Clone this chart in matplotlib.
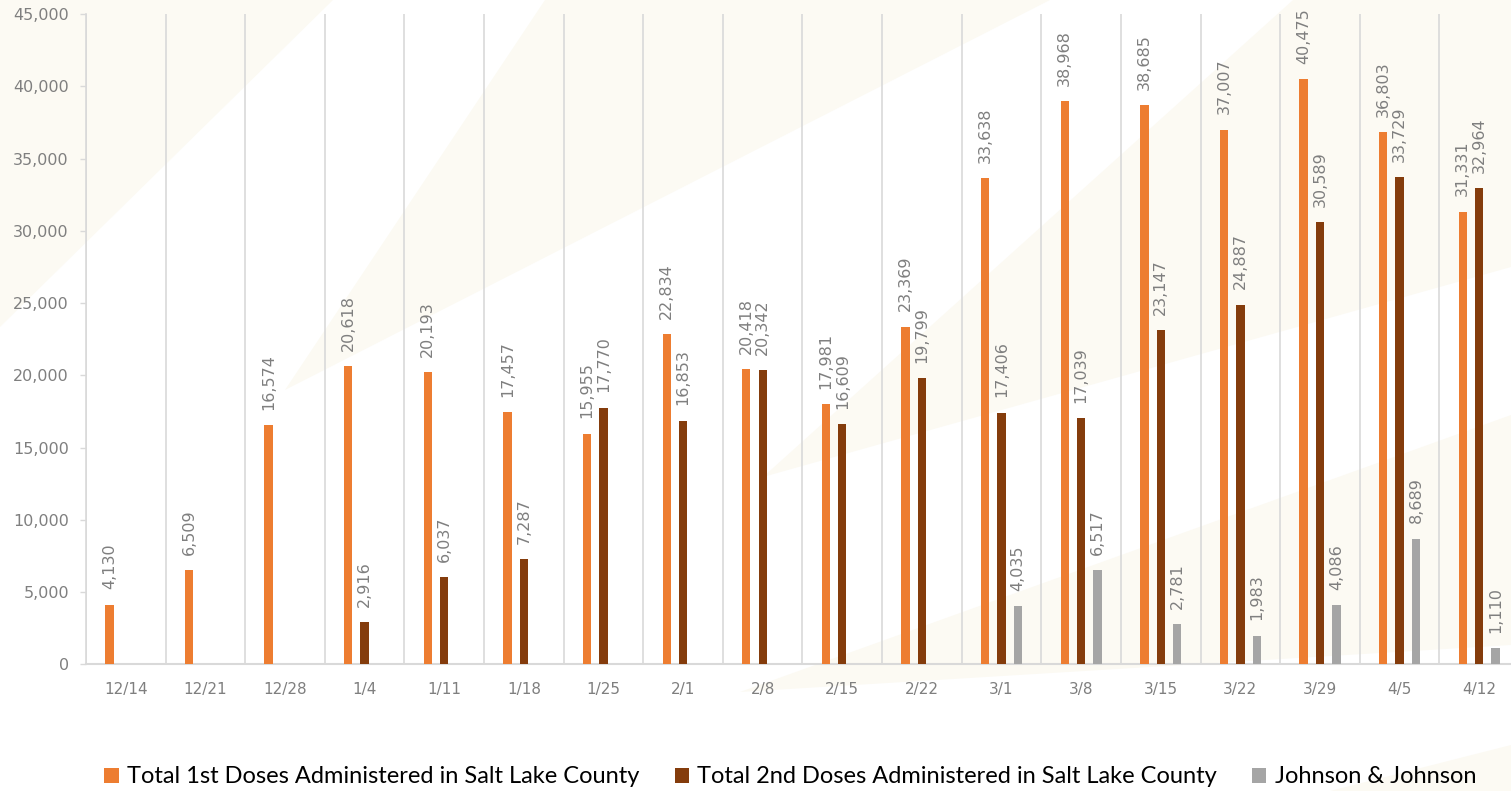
import numpy as np
import matplotlib
matplotlib.use('Agg')
import matplotlib.pyplot as plt
from matplotlib.patches import Polygon, Patch
from matplotlib.ticker import FuncFormatter

# ---------------- data ----------------
weeks = ['12/14', '12/21', '12/28', '1/4', '1/11', '1/18', '1/25', '2/1', '2/8',
         '2/15', '2/22', '3/1', '3/8', '3/15', '3/22', '3/29', '4/5', '4/12']
first_doses = [4130, 6509, 16574, 20618, 20193, 17457, 15955, 22834, 20418,
               17981, 23369, 33638, 38968, 38685, 37007, 40475, 36803, 31331]
second_doses = [None, None, None, 2916, 6037, 7287, 17770, 16853, 20342,
                16609, 19799, 17406, 17039, 23147, 24887, 30589, 33729, 32964]
jj_doses = [None, None, None, None, None, None, None, None, None,
            None, None, 4035, 6517, 2781, 1983, 4086, 8689, 1110]
series_names = ['Total 1st Doses Administered in Salt Lake County',
                'Total 2nd Doses Administered in Salt Lake County',
                'Johnson & Johnson']
series_colors = ['#ED7D31', '#843C0C', '#A5A5A5']
y_ticks = list(range(0, 45001, 5000))

# ---------------- figure ----------------
plt.rcParams['font.family'] = ['DejaVu Sans']
W, H = 1511, 791
fig = plt.figure(figsize=(W / 100, H / 100), dpi=100)
fig.patch.set_facecolor('white')

# faint decorative sunburst rays in the background (pixel coords, top-left origin)
cream = '#FCFAF3'
rays = [
    [(0, 0), (333, 0), (0, 327)],
    [(285, 390), (545, 0), (1050, 0)],
    [(763, 477), (1293, 0), (1511, 0), (1511, 267)],
    [(740, 692), (1511, 415), (1511, 645)],
    [(1330, 791), (1511, 745), (1511, 791)],
]
for r in rays:
    pts = [(x / W, 1 - y / H) for x, y in r]
    fig.add_artist(Polygon(pts, closed=True, transform=fig.transFigure,
                           facecolor=cream, edgecolor='none', zorder=-5))

ax = fig.add_axes([86 / W, (H - 664.3) / H, (1519 - 86) / W, 650.3 / H])
ax.set_facecolor('none')

x = np.arange(len(weeks))
bar_w = 0.105
offset = 0.206
all_series = [first_doses, second_doses, jj_doses]
for i, (vals, color) in enumerate(zip(all_series, series_colors)):
    v = np.array([np.nan if a is None else a for a in vals], dtype=float)
    pos = x + (i - 1) * offset
    ax.bar(pos, np.nan_to_num(v), width=bar_w, color=color, zorder=3,
           edgecolor='none')
    for px, val in zip(pos, v):
        if not np.isnan(val):
            ax.annotate(f'{int(val):,}', (px, val), xytext=(0, 11),
                        textcoords='offset points', rotation=90,
                        ha='center', va='bottom', fontsize=11.5,
                        color='#7F7F7F', zorder=4)

ax.set_xlim(-0.5, len(weeks) - 0.5)
ax.set_ylim(0, 45000)

ax.set_xticks(x)
ax.set_xticklabels(weeks)
ax.set_xticks(np.arange(-0.5, len(weeks), 1), minor=True)
ax.tick_params(axis='x', which='major', length=0, pad=13, labelsize=11,
               labelcolor='#7F7F7F')
ax.tick_params(axis='x', which='minor', length=0)
ax.grid(which='minor', axis='x', color='#D9D9D9', lw=1.2, zorder=1)

ax.set_yticks(y_ticks)
ax.yaxis.set_major_formatter(FuncFormatter(lambda v, p: f'{int(v):,}'))
ax.tick_params(axis='y', length=4.3, width=1, color='#D9D9D9', pad=8,
               labelsize=11.5, labelcolor='#7F7F7F')

for s in ['top', 'right']:
    ax.spines[s].set_visible(False)
ax.spines['left'].set_color('#D9D9D9')
ax.spines['left'].set_linewidth(1.2)
ax.spines['bottom'].set_color('#D9D9D9')
ax.spines['bottom'].set_linewidth(1.5)

handles = [Patch(facecolor=c, edgecolor='none', label=n)
           for c, n in zip(series_colors, series_names)]
fig.legend(handles=handles, loc='center', bbox_to_anchor=(0.523, 0.0177),
           ncol=3, frameon=False, prop={'family': 'Lato', 'size': 17},
           handlelength=0.6, handleheight=0.6, handletextpad=0.35,
           columnspacing=1.5, labelcolor='#000000')

fig.savefig('out.png', dpi=100, facecolor='white')
